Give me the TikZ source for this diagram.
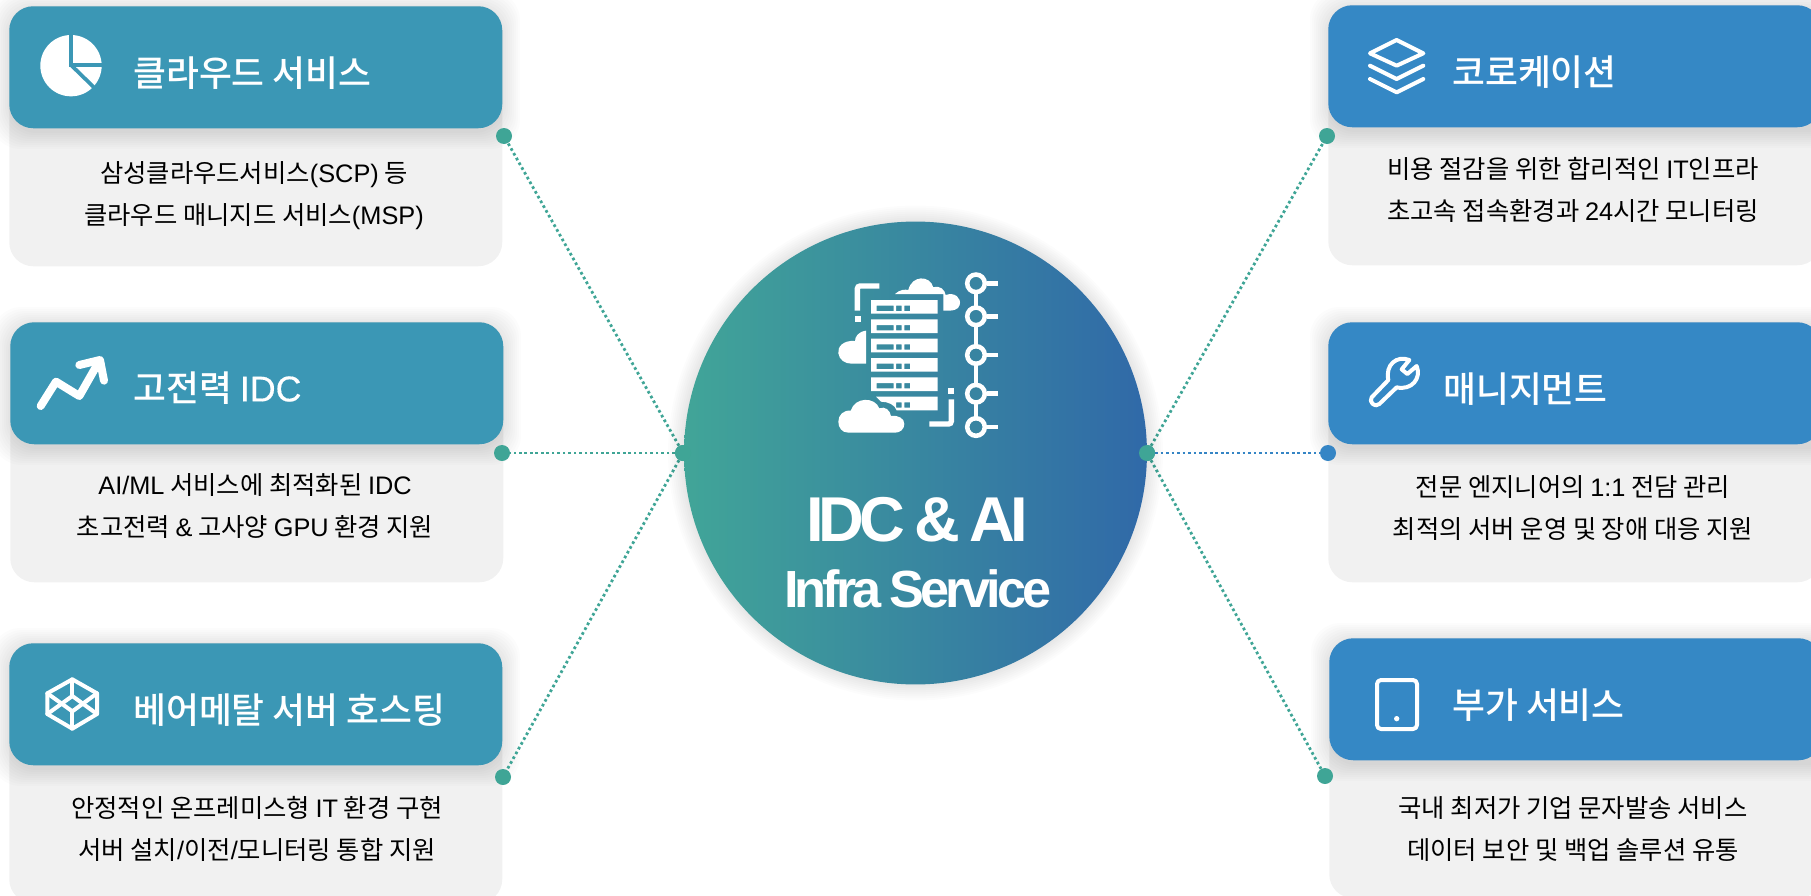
\documentclass[tikz,border=0pt]{standalone}
\usepackage{fontspec}
\setmainfont{Noto Sans CJK KR}
\newfontfamily\headfont{Noto Sans CJK KR Medium}
\newfontfamily\latfont{Liberation Sans}
\newfontfamily\latmedium[FakeBold=0.4]{Liberation Sans}
\newfontfamily\titlefont[LetterSpace=-7.5, WordSpace=0.7]{Liberation Sans Bold}
\usetikzlibrary{shapes.geometric}

\definecolor{cardteal}{HTML}{3B97B5}
\definecolor{cardblue}{HTML}{3588C5}
\definecolor{cardgray}{HTML}{F1F1F1}
\definecolor{dotgreen}{HTML}{3FA596}
\definecolor{dotblue}{HTML}{3585C5}
\definecolor{hubleft}{HTML}{41A598}
\definecolor{hubright}{HTML}{3069A8}

\newcommand{\lat}[1]{{\latfont #1}}

% soft shadow: corners of the header, in px
\newcommand{\softshadow}[4]{
\foreach \g in {1,...,9}
  \fill[black, opacity=0.012, rounded corners=22pt] (#1-2*\g,#2-2*\g+3) rectangle (#3+2*\g,#4+2*\g+3);
}

\tikzset{
  x=0.75pt, y=-0.75pt,
  bodycard/.style={fill=cardgray, rounded corners=18pt, minimum width=369.75pt, anchor=north west, inner sep=0pt},
  headteal/.style={fill=cardteal, rounded corners=18pt, minimum width=369.75pt, minimum height=91.5pt, anchor=north west, inner sep=0pt},
  headblue/.style={fill=cardblue, rounded corners=18pt, minimum width=369.75pt, minimum height=91.5pt, anchor=north west, inner sep=0pt},
  headtext/.style={text=white, font=\headfont\fontsize{26.8pt}{30pt}\selectfont, anchor=west, inner sep=0pt},
  bodytext/.style={text=black, font=\fontsize{19pt}{31.5pt}\selectfont, align=center, inner sep=0pt},
  dotnode/.style={circle, fill=dotgreen, minimum size=12pt, inner sep=0pt},
  linkgreen/.style={draw=dotgreen, line width=2.1pt, dash pattern=on 2pt off 2.1pt},
  linkblue/.style={draw=dotblue, line width=2.1pt, dash pattern=on 2pt off 2.1pt},
  iconline/.style={draw=white, line join=round, line cap=round},
}

\begin{document}
\begin{tikzpicture}
\useasboundingbox (0,0) rectangle (1811,896);

% cards on the left
\node[bodycard, minimum height=195pt] (bodyCloud) at (9,6) {};
\node[bodycard, minimum height=195pt] (bodyPower) at (10,322) {};
\node[bodycard, minimum height=195pt] (bodyMetal) at (9,643) {};
\softshadow{9}{6}{502}{128}
\softshadow{10}{322}{503}{444}
\softshadow{9}{643}{502}{765}
\node[headteal] (headCloud) at (9,6) {};
\node[headteal] (headPower) at (10,322) {};
\node[headteal] (headMetal) at (9,643) {};

% cards on the right
\node[bodycard, minimum height=195pt] (bodyColo) at (1328,5) {};
\node[bodycard, minimum height=195pt] (bodyManage) at (1328,322) {};
\node[bodycard, minimum height=195pt] (bodyExtra) at (1329,638) {};
\softshadow{1328}{5}{1840}{127}
\softshadow{1328}{322}{1840}{444}
\softshadow{1329}{638}{1840}{760}
\node[headblue] (headColo) at (1328,5) {};
\node[headblue] (headManage) at (1328,322) {};
\node[headblue] (headExtra) at (1329,638) {};

% texts of the cards
\node[headtext] (titleCloud) at (133,73) {클라우드 서비스};
\node[headtext] (titlePower) at (133,388) {고전력 {\latmedium IDC}};
\node[headtext] (titleMetal) at (133,710) {베어메탈 서버 호스팅};
\node[headtext] (titleColo) at (1452,72) {코로케이션};
\node[headtext] (titleManage) at (1443,389) {매니지먼트};
\node[headtext] (titleExtra) at (1452,705) {부가 서비스};
\node[bodytext] (textCloud) at (254,196) {삼성클라우드서비스\lat{(SCP)} 등\\클라우드 매니지드 서비스\lat{(MSP)}};
\node[bodytext] (textPower) at (255,506) {\lat{AI/ML} 서비스에 최적화된 \lat{IDC}\\초고전력 \lat{\&} 고사양 \lat{GPU} 환경 지원};
\node[bodytext] (textMetal) at (257,829) {안정적인 온프레미스형 \lat{IT} 환경 구현\\서버 설치\lat{/}이전\lat{/}모니터링 통합 지원};
\node[bodytext] (textColo) at (1573,190) {비용 절감을 위한 합리적인 \lat{IT}인프라\\초고속 접속환경과 \lat{24}시간 모니터링};
\node[bodytext] (textManage) at (1573,508) {전문 엔지니어의 \lat{1:1} 전담 관리\\최적의 서버 운영 및 장애 대응 지원};
\node[bodytext] (textExtra) at (1573,829) {국내 최저가 기업 문자발송 서비스\\데이터 보안 및 백업 솔루션 유통};

% dots and dotted links
\node[dotnode] (dotCloud) at (504,136) {};
\node[dotnode] (dotPower) at (502,453) {};
\node[dotnode] (dotMetal) at (503,777) {};
\node[dotnode] (dotColo) at (1327,136) {};
\node[dotnode, fill=dotblue] (dotManage) at (1328,453) {};
\node[dotnode] (dotExtra) at (1325,776) {};
\node[dotnode] (hubWest) at (683,453) {};
\node[dotnode] (hubEast) at (1147,453) {};
\draw[linkgreen] (hubWest) -- (dotCloud);
\draw[linkgreen] (hubWest) -- (dotPower);
\draw[linkgreen] (hubWest) -- (dotMetal);
\draw[linkgreen] (hubEast) -- (dotColo);
\draw[linkblue] (hubEast) -- (dotManage);
\draw[linkgreen] (hubEast) -- (dotExtra);

% centre circle
\foreach \g in {1,...,8}
  \fill[black, opacity=0.012] (915.5,453) circle (173.6pt+\g*1.5pt);
\shade[left color=hubleft, right color=hubright, middle color=hubleft!50!hubright] (915.5,453) circle (173.6pt);
\node[dotnode] (hubWestTop) at (hubWest) {};
\node[dotnode] (hubEastTop) at (hubEast) {};
\node[text=white, font=\titlefont\fontsize{47.5pt}{50pt}\selectfont, inner sep=0pt] (titleTop) at (917,520) {IDC \& AI};
\node[text=white, font=\titlefont\fontsize{39.2pt}{42pt}\selectfont, inner sep=0pt] (titleSub) at (918,589) {Infra Service};

% server icon, in zoom units
\begin{scope}[shift={(780,240)}, x=0.25pt, y=-0.25pt]
\fill[white] (345,162) .. controls (360,148) and (375,148) .. (385,150) .. controls (395,105) and (450,105) .. (460,142) .. controls (480,135) and (495,150) .. (497,165) .. controls (525,155) and (545,175) .. (539,195) .. controls (535,210) and (520,213) .. (490,212) -- (490,162) -- cycle;
\fill[white] (258,272) .. controls (235,275) and (225,290) .. (225,303) .. controls (190,300) and (172,320) .. (175,340) .. controls (178,360) and (195,371) .. (215,371) -- (258,371) -- cycle;
\fill[white, even odd rule]
  (273,180) rectangle (473,221) (290,197) rectangle (341,213) (348,197) rectangle (365,213) (373,197) rectangle (390,213)
  (273,238) rectangle (473,279) (290,255) rectangle (341,271) (348,255) rectangle (365,271) (373,255) rectangle (390,271)
  (273,296) rectangle (473,337) (290,313) rectangle (341,329) (348,313) rectangle (365,329) (373,313) rectangle (390,329)
  (273,354) rectangle (473,395) (290,371) rectangle (341,387) (348,371) rectangle (365,387) (373,371) rectangle (390,387)
  (273,412) rectangle (473,453) (290,429) rectangle (341,445) (348,429) rectangle (365,445) (373,429) rectangle (390,445)
  (288,470) -- (473,470) -- (473,511) -- (350,511) .. controls (345,495) and (325,485) .. (303,485) -- cycle
  (348,487) rectangle (365,503) (373,487) rectangle (390,503);
\fill[white] (175,545) .. controls (175,525) and (190,510) .. (212,512) .. controls (225,470) and (285,470) .. (298,505) .. controls (315,498) and (330,510) .. (333,528) .. controls (355,525) and (373,535) .. (373,552) .. controls (373,568) and (360,578) .. (345,578) -- (205,578) .. controls (185,578) and (175,562) .. (175,545) -- cycle;
\draw[white, line width=4pt, rounded corners=2pt] (232,212) -- (232,138) -- (298,138);
\fill[white] (225,228) rectangle (243,246);
\draw[white, line width=4pt, rounded corners=2pt] (514,478) -- (514,552) -- (448,552);
\fill[white] (504,444) rectangle (522,462);
\draw[white, line width=2.5pt] (588,130) -- (588,561);
\foreach \cy in {130,229,345,461,561} {
  \draw[white, line width=3.4pt] (620,\cy) -- (655,\cy);
  \shade[left color=hubleft!45!hubright, right color=hubleft!45!hubright] (588,\cy) circle (5pt);
  \draw[white, line width=3.4pt] (588,\cy) circle (6.6pt);
}
\end{scope}

% icons of the cards, in zoom units
\begin{scope}[x=0.25pt, y=-0.25pt]
\fill[white] (213,197) circle (23pt);
\draw[cardteal, line width=2.8pt] (214,98) -- (214,196) -- (312,196);
\draw[cardteal, line width=2.8pt] (214,196) -- (288,268);
\end{scope}
\begin{scope}[shift={(0,320)}, x=0.25pt, y=-0.25pt]
\draw[iconline, line width=6pt] (122,258) -- (168,185) -- (238,228) -- (295,128);
\draw[iconline, line width=6pt] (238,135) -- (300,120) -- (312,182);
\end{scope}
\begin{scope}[shift={(0,620)}, x=0.25pt, y=-0.25pt]
\draw[iconline, line width=3pt] (217,178) -- (291,220) -- (291,282) -- (217,326) -- (142,282) -- (142,220) -- cycle;
\draw[iconline, line width=3pt] (142,220) -- (217,274) -- (291,220);
\draw[iconline, line width=3pt] (142,282) -- (217,228) -- (291,282);
\draw[iconline, line width=3pt] (217,178) -- (217,228) (217,274) -- (217,326);
\end{scope}
\begin{scope}[shift={(1300,0)}, x=0.25pt, y=-0.25pt]
\draw[iconline, line width=3pt] (290,120) -- (370,160) -- (290,197) -- (210,160) -- cycle;
\draw[iconline, line width=3pt] (210,197) -- (290,237) -- (370,197);
\draw[iconline, line width=3pt] (210,237) -- (290,277) -- (370,237);
\end{scope}
\begin{scope}[shift={(1300,300)}, x=0.25pt, y=-0.25pt]
\draw[iconline, line width=3pt] (328,180) .. controls (290,165) and (255,195) .. (265,240) -- (215,292) .. controls (205,305) and (225,325) .. (238,312) -- (290,262) .. controls (335,272) and (365,235) .. (350,198) -- (322,222) -- (305,208) -- cycle;
\end{scope}
\begin{scope}[shift={(1300,620)}, x=0.25pt, y=-0.25pt]
\draw[iconline, line width=3pt, rounded corners=3pt] (231,180) rectangle (351,327);
\fill[white] (290,296) circle (2pt);
\end{scope}
\end{tikzpicture}
\end{document}
